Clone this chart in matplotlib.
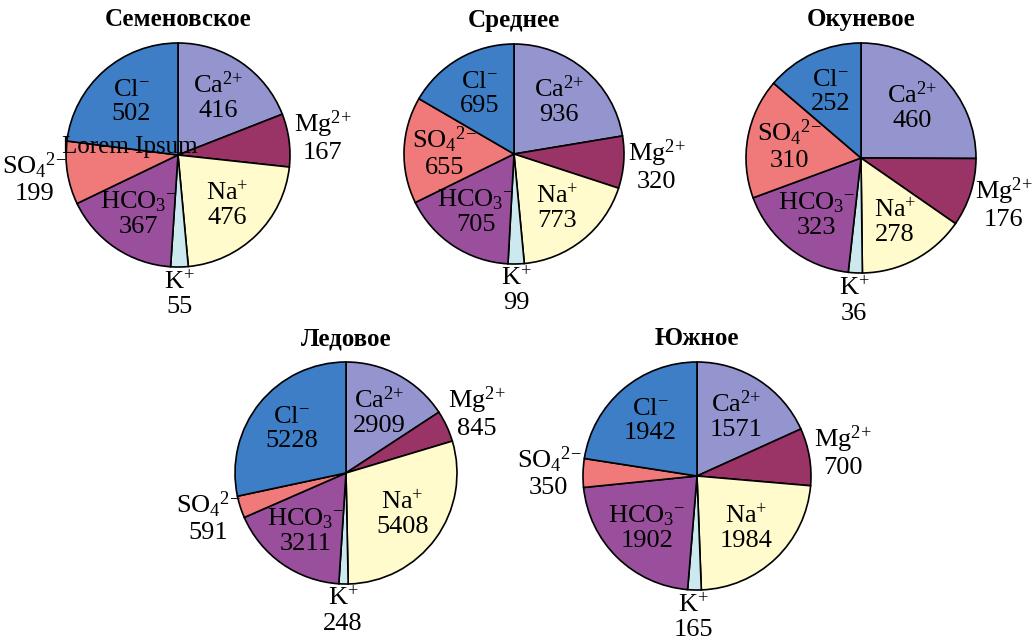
import numpy as np
import matplotlib.pyplot as plt

plt.rcParams['font.family'] = ['Liberation Serif', 'DejaVu Serif']
plt.rcParams['mathtext.fontset'] = 'custom'
plt.rcParams['mathtext.rm'] = 'Liberation Serif'
plt.rcParams['mathtext.it'] = 'Liberation Serif:italic'
plt.rcParams['mathtext.bf'] = 'Liberation Serif:bold'

# ионы (по часовой стрелке от верха)
ions = ['Ca$^{2{+}}$', 'Mg$^{2{+}}$', 'Na$^{{+}}$', 'K$^{{+}}$',
        'HCO$_3{}^{{-}}$', 'SO$_4{}^{2{-}}$', 'Cl$^{{-}}$']
colors = ['#9494cf', '#9a3366', '#fffbcc', '#cde9f0',
          '#9a4f9c', '#f07a7a', '#3d7ec6']

lakes = ['Семеновское', 'Среднее', 'Окуневое', 'Ледовое', 'Южное']
semenovskoe = [416, 167, 476, 55, 367, 199, 502]
srednee = [936, 320, 773, 99, 705, 655, 695]
okunevoe = [460, 176, 278, 36, 323, 310, 252]
ledovoe = [2909, 845, 5408, 248, 3211, 591, 5228]
yuzhnoe = [1571, 700, 1984, 165, 1902, 350, 1942]

W, H = 1033, 642
fig = plt.figure(figsize=(W / 100, H / 100), dpi=100)
lim = 1.6


def add_pie(cx, cy, r, title, values, outside):
    size = 2 * lim * r
    ax = fig.add_axes([(cx - lim * r) / W, 1 - (cy + lim * r) / H,
                       size / W, size / H])
    wedges, _ = ax.pie(values, colors=colors, startangle=90,
                       counterclock=False, radius=1,
                       wedgeprops=dict(edgecolor='black', linewidth=1.2))
    for w, name, v, out in zip(wedges, ions, values, outside):
        mid = np.deg2rad((w.theta1 + w.theta2) / 2)
        rr = 1.3 if out else 0.63
        if name.startswith('K'):
            rr = 1.24
        ax.text(rr * np.cos(mid), rr * np.sin(mid), f'{name}\n{v}',
                ha='center', va='center', fontsize=19, linespacing=1.12)
    ax.text(0, 1.15, title, ha='center', va='baseline',
            fontsize=18, fontweight='bold')
    ax.set_xlim(-lim, lim)
    ax.set_ylim(-lim, lim)
    ax.set_aspect('equal')
    ax.axis('off')
    return ax


# Mg и K всегда снаружи, SO4 - для некоторых озер
out_a = [False, True, False, True, False, True, False]
out_b = [False, True, False, True, False, False, False]

ax1 = add_pie(178, 155, 112, lakes[0], semenovskoe, out_a)
add_pie(514, 154, 110, lakes[1], srednee, out_b)
add_pie(861, 158, 115, lakes[2], okunevoe, out_b)
add_pie(346, 473, 111, lakes[3], ledovoe, out_a)
add_pie(697, 476, 114, lakes[4], yuzhnoe, out_a)

# лишняя надпись как на оригинале
ax1.text(-0.43, 0.07, 'Lorem Ipsum', ha='center', va='center', fontsize=18)

fig.savefig('out.png', dpi=100)
plt.close()
